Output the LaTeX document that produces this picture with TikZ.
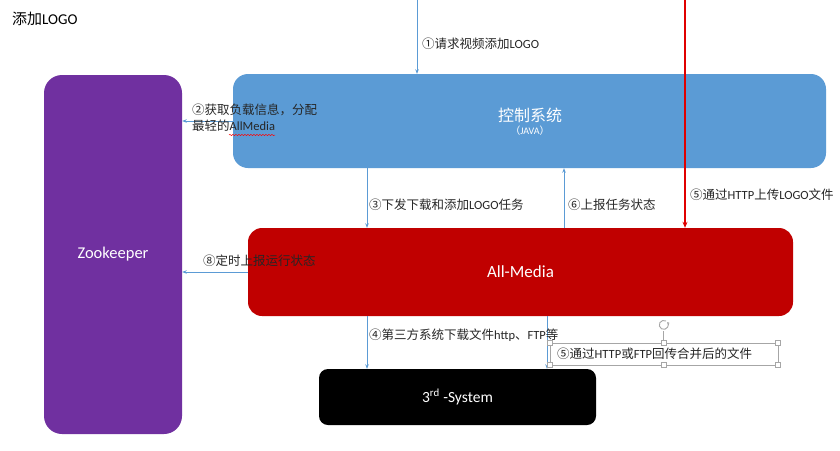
\documentclass[tikz,border=0pt]{standalone}
\usepackage{fontspec}
\setmainfont{Carlito}
\newfontfamily\cjk{Noto Sans CJK SC}
\newfontfamily\lat{Carlito}
\usetikzlibrary{arrows.meta,decorations.pathmorphing}
\definecolor{zkpurple}{HTML}{7030A0}
\definecolor{ctrlblue}{HTML}{5B9BD5}
\definecolor{amred}{HTML}{C00000}
\definecolor{linkblue}{HTML}{5B9BD5}
\definecolor{uplred}{HTML}{E00000}
\definecolor{lbl}{HTML}{262626}
\definecolor{selgray}{HTML}{A6A6A6}
\tikzset{
  sysbox/.style={draw=none, text=white, inner sep=0pt},
  link/.style={draw=linkblue, line width=0.8pt, -{Stealth[length=4.5pt,width=3.5pt]}},
  uplink/.style={draw=uplred, line width=1.7pt, -{Stealth[length=6pt,width=5pt]}},
  lab/.style={inner sep=0pt, anchor=west, text=lbl, font=\cjk\fontsize{12.5}{16}\selectfont},
  handle/.style={draw=selgray, fill=white, line width=0.5pt, minimum size=5pt, inner sep=0pt, rectangle},
}
\begin{document}
\begin{tikzpicture}[x=1pt,y=-1pt]
\useasboundingbox[fill=white] (0,0) rectangle (840,450);

% title
\node[inner sep=0pt, anchor=west, text=black] (title) at (12,19)
  {\fontsize{15}{17}\selectfont{\cjk 添加}{\lat LOGO}};

% boxes
\node[sysbox, fill=zkpurple, rounded corners=18pt, minimum width=138pt, minimum height=359pt,
  font=\lat\fontsize{16.5}{18}\selectfont] (zk) at (113,254.5) {Zookeeper};
\node[sysbox, fill=ctrlblue, rounded corners=15pt, minimum width=593pt, minimum height=94pt] (ctrl) at (529.5,121) {};
\node[text=white, inner sep=0pt, font=\cjk\fontsize{16}{18}\selectfont] (ctrlname) at (530,115) {控制系统};
\node[text=white, inner sep=0pt, font=\cjk\fontsize{10}{12}\selectfont] (ctrlsub) at (530,131) {（{\lat JAVA}）};
\node[sysbox, fill=amred, rounded corners=14pt, minimum width=545pt, minimum height=88pt,
  font=\lat\fontsize{17}{19}\selectfont] (am) at (520.5,272) {All-Media};
\node[sysbox, fill=black, rounded corners=9pt, minimum width=277pt, minimum height=56pt,
  font=\lat\fontsize{15.5}{17}\selectfont] (third) at (457.5,397) {3\textsuperscript{rd} -System};

% free ends and x-positions
\coordinate (top1) at (417,0);
\coordinate (top5) at (685,0);
\coordinate (x3) at (367,0);
\coordinate (x6) at (564,0);
\coordinate (x5) at (547,0);

% connectors
\draw[link] (top1) -- (top1 |- ctrl.north);
\draw[link] (ctrl.west) -- (ctrl.west -| zk.east);
\draw[link] (x3 |- ctrl.south) -- (x3 |- am.north);
\draw[link] (x6 |- am.north) -- (x6 |- ctrl.south);
\draw[link] (am.west) -- (am.west -| zk.east);
\draw[link] (x3 |- am.south) -- (x3 |- third.north);
\draw[link] (x5 |- am.south) -- (x5 |- third.north);
\draw[uplink] (top5) -- (top5 |- am.north);

% labels
\node[lab] (l1) at (422,44) {①请求视频添加{\lat LOGO}};
\node[lab, anchor=north west, align=left] (l2) at (192,104) {②获取负载信息，分配\\最轻的{\lat AllMedia}};
\draw[red, line width=0.5pt, decorate, decoration={snake, amplitude=0.6pt, segment length=3pt}]
  (229,135) -- (275,135);
\node[lab] (l3) at (369,205) {③下发下载和添加{\lat LOGO}任务};
\node[lab] (l6) at (568,205) {⑥上报任务状态};
\node[lab] (l5a) at (690,195) {⑤通过{\lat HTTP}上传{\lat LOGO}文件};
\node[lab] (l8) at (203,261) {⑧定时上报运行状态};
\node[lab] (l4) at (369,335) {④第三方系统下载文件{\lat http}、{\lat FTP}等};

% selected text box with ⑤
\draw[selgray, line width=0.6pt] (550,343) rectangle (778,365);
\node[lab] (l5b) at (557,354) {⑤通过{\lat HTTP}或{\lat FTP}回传合并后的文件};
\draw[selgray, line width=0.6pt] (663.5,331) -- (663.5,343);
\draw[selgray, line width=0.9pt, -{Stealth[length=2.5pt,width=2.5pt]}]
  (666,321) arc[start angle=60, end angle=400, radius=4.5pt];
\foreach \hx/\hy in {550/343, 663.5/343, 778/343, 550/365, 663.5/365, 778/365}
  \node[handle] at (\hx,\hy) {};
\end{tikzpicture}
\end{document}
